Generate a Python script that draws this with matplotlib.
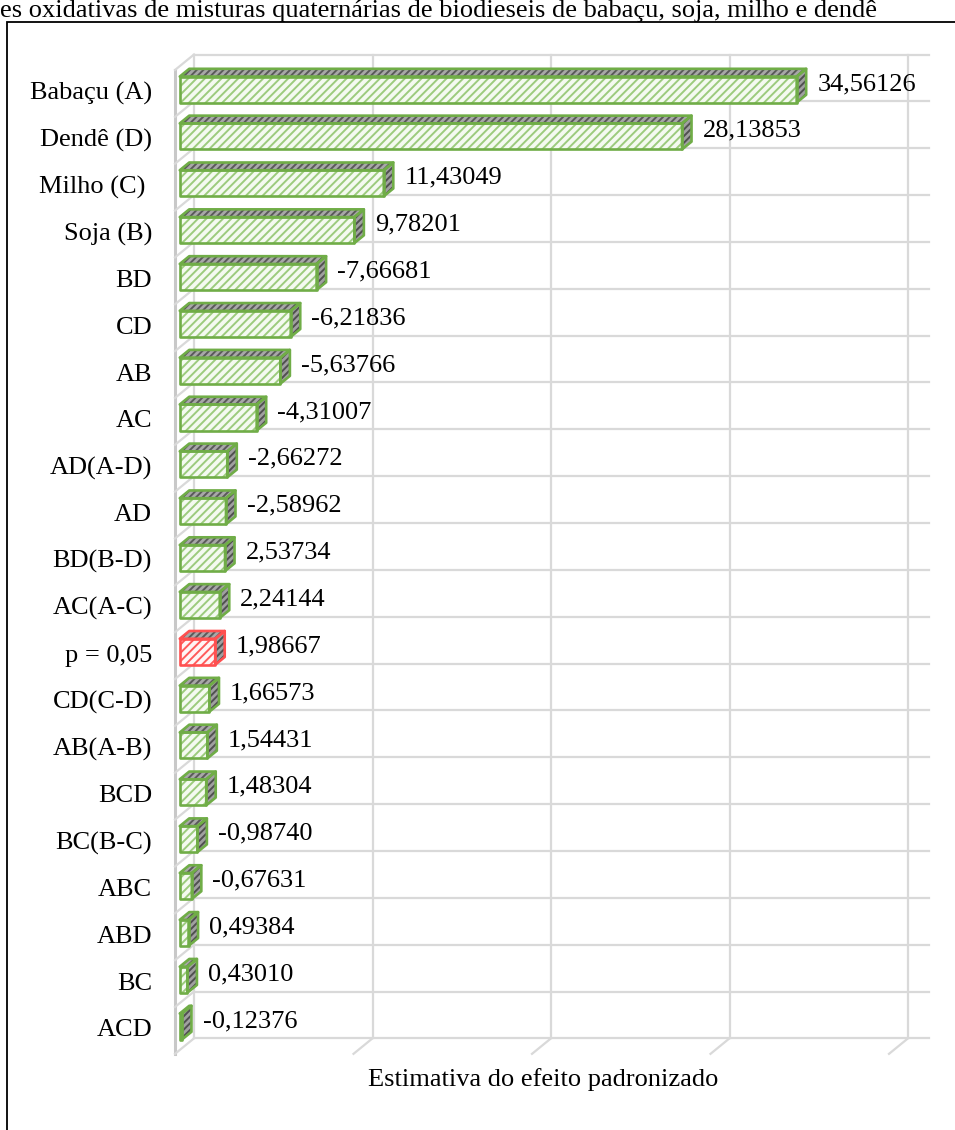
import matplotlib
matplotlib.use('Agg')
import matplotlib.pyplot as plt
from matplotlib.patches import Polygon, Rectangle

plt.rcParams['font.family'] = ['Liberation Serif', 'DejaVu Serif']
plt.rcParams['hatch.linewidth'] = 1.4

# dados do grafico de Pareto (efeitos padronizados)
categorias = ['Babaçu (A)', 'Dendê (D)', 'Milho (C) ', 'Soja (B)', 'BD', 'CD', 'AB', 'AC',
              'AD(A-D)', 'AD', 'BD(B-D)', 'AC(A-C)', 'p = 0,05', 'CD(C-D)', 'AB(A-B)',
              'BCD', 'BC(B-C)', 'ABC', 'ABD', 'BC', 'ACD']
valores = [34.56126, 28.13853, 11.43049, 9.78201, -7.66681, -6.21836, -5.63766, -4.31007,
           -2.66272, -2.58962, 2.53734, 2.24144, 1.98667, 1.66573, 1.54431,
           1.48304, -0.98740, -0.67631, 0.49384, 0.43010, -0.12376]
grade_x = [0, 10, 20, 30, 40]
titulo = 'es oxidativas de misturas quaternárias de biodieseis de babaçu, soja, milho e dendê'
rotulo_x = 'Estimativa do efeito padronizado'

cinza = '#D9D9D9'
verde = '#70AD47'
vermelho = '#FF5050'
fs = 19

fig = plt.figure(figsize=(9.55, 11.3), dpi=100)
ax = fig.add_axes([0, 0, 1, 1])
esc_x = 17.85   # px por unidade
esc_y = 46.85   # px por categoria
ax.set_xlim(-175 / esc_x, (955 - 175) / esc_x)
ax.set_ylim((1130 - 70) / esc_y, -70 / esc_y)
ax.axis('off')

n = len(categorias)
DX = 19 / esc_x
DY = -15.5 / esc_y
xmax = 41.2

# parede do fundo
for k in range(n + 1):
    ax.plot([DX, xmax + DX], [k + DY, k + DY], color=cinza, lw=1.6, zorder=1)
for v in grade_x:
    ax.plot([v + DX, v + DX], [DY, n + DY], color=cinza, lw=1.6, zorder=1)
# marcas do piso
for v in grade_x[1:]:
    ax.plot([v + DX, v], [n + DY, n], color=cinza, lw=1.6, zorder=1)
# parede lateral
ax.plot([0, 0], [0, n], color='#C8C8C8', lw=2.2, zorder=1)
for k in range(n + 1):
    ax.plot([0, DX], [k, k + DY], color=cinza, lw=1.6, zorder=1)

h = 0.555
d0, d1 = 0.25, 0.75
ox0, oy0 = d0 * DX, d0 * DY
ox1, oy1 = d1 * DX, d1 * DY

for i, (cat, v) in enumerate(zip(categorias, valores)):
    L = abs(v)
    yc = i + 0.5
    yt = yc - h / 2
    yb = yc + h / 2
    if cat == 'p = 0,05':
        borda, fundo, listra = vermelho, '#FFF5F5', '#FF5A5A'
    else:
        borda, fundo, listra = verde, '#F4FAF0', '#9CCB7D'
    frente = [(ox0, yt + oy0), (ox0 + L, yt + oy0), (ox0 + L, yb + oy0), (ox0, yb + oy0)]
    topo = [(ox0, yt + oy0), (ox0 + L, yt + oy0), (ox1 + L, yt + oy1), (ox1, yt + oy1)]
    lado = [(ox0 + L, yt + oy0), (ox1 + L, yt + oy1), (ox1 + L, yb + oy1), (ox0 + L, yb + oy0)]

    ax.add_patch(Polygon(frente, closed=True, facecolor=fundo, edgecolor=listra,
                         hatch='////', lw=0, zorder=3))
    ax.add_patch(Polygon(topo, closed=True, facecolor='#A8A8A8', edgecolor='#5A5A5A',
                         hatch='/////', lw=0, zorder=3))
    ax.add_patch(Polygon(lado, closed=True, facecolor='#A0A0A0', edgecolor='#505050',
                         hatch='/////', lw=0, zorder=3))
    for face in (frente, topo, lado):
        ax.add_patch(Polygon(face, closed=True, fill=False, edgecolor=borda,
                             lw=1.9, joinstyle='round', zorder=4))

    texto = f'{v:.5f}'.replace('.', ',')
    ax.text(L + ox1 + 0.62, yc - 0.2, texto, ha='left', va='center', fontsize=fs, zorder=5)
    ax.text((152 - 175) / esc_x, yc, cat, ha='right', va='center', fontsize=fs)

ax.text(20.6, (1080 - 70) / esc_y, rotulo_x, ha='center', va='center', fontsize=fs)

fig.text(0.0, 1 - 17 / 1130, titulo, ha='left', va='baseline', fontsize=fs)
fig.add_artist(Rectangle((7 / 955, -0.1), 2, (1130 - 22) / 1130 + 0.1,
                         transform=fig.transFigure, fill=False, ec='black', lw=1.3))

fig.savefig('out.png', dpi=100)
